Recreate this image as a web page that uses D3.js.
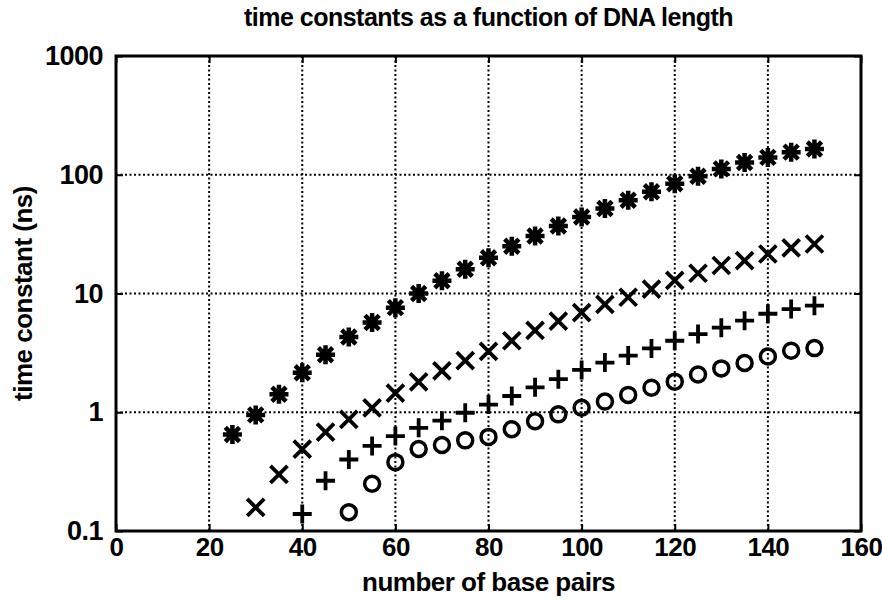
<!DOCTYPE html>
<html>
<head>
<meta charset="utf-8">
<script src="https://cdn.jsdelivr.net/npm/d3@7"></script>
<style>
  body { margin: 0; background: #fff; }
  text { font-family: 'Liberation Sans', Arial, sans-serif; font-weight: bold; fill: #000; }
</style>
</head>
<body>
<svg id="chart" width="882" height="602"></svg>
<script>
'use strict';

// base pairs for each series
var starX = d3.range(25, 151, 5);
var crossX = d3.range(30, 151, 5);
var plusX = d3.range(40, 151, 5);
var circleX = d3.range(50, 151, 5);

// time constants (ns)
var starY = [0.65, 0.95, 1.42, 2.15, 3.05, 4.3, 5.7, 7.6, 10, 12.8, 16, 20, 25,
    30.5, 37, 44, 52, 61, 72, 84, 97, 112, 127, 140, 155, 165];
var crossY = [0.158, 0.30, 0.49, 0.68, 0.87, 1.09, 1.45, 1.8, 2.23, 2.72, 3.25,
    4.0, 4.9, 5.85, 6.9, 8.1, 9.3, 10.9, 12.9, 14.8, 17.2, 18.9, 21.5, 24.2, 26.1];
var plusY = [0.139, 0.265, 0.40, 0.52, 0.63, 0.74, 0.85, 0.99, 1.16, 1.37, 1.62,
    1.9, 2.27, 2.62, 3.0, 3.45, 4.0, 4.55, 5.15, 5.9, 6.75, 7.4, 7.9];
var circleY = [0.144, 0.25, 0.38, 0.49, 0.53, 0.58, 0.62, 0.72, 0.84, 0.96, 1.09,
    1.23, 1.4, 1.61, 1.81, 2.08, 2.34, 2.6, 2.95, 3.3, 3.47];

var xTicks = [0, 20, 40, 60, 80, 100, 120, 140, 160];
var yTicks = [0.1, 1, 10, 100, 1000];

var svg = d3.select('#chart');
var plotLeft = 116, plotRight = 861, plotTop = 56, plotBottom = 531;

var x = d3.scaleLinear().domain([0, 160]).range([plotLeft, plotRight]);
var y = d3.scaleLog().domain([0.1, 1000]).range([plotBottom, plotTop]);

// dotted grid
var grid = svg.append('g')
    .attr('stroke', '#000')
    .attr('stroke-width', 2)
    .attr('stroke-dasharray', '2,2.5');
grid.selectAll('.gx')
    .data(xTicks.slice(1, -1))
    .enter().append('line')
    .attr('x1', function(d) { return x(d); })
    .attr('x2', function(d) { return x(d); })
    .attr('y1', plotTop)
    .attr('y2', plotBottom);
grid.selectAll('.gy')
    .data(yTicks.slice(1, -1))
    .enter().append('line')
    .attr('x1', plotLeft)
    .attr('x2', plotRight)
    .attr('y1', function(d) { return y(d); })
    .attr('y2', function(d) { return y(d); });

// axes, ticks pointing in
var xAxis = svg.append('g')
    .attr('transform', 'translate(0,' + plotBottom + ')')
    .call(d3.axisBottom(x).tickValues(xTicks).tickSize(-7).tickPadding(7));
var xAxisTop = svg.append('g')
    .attr('transform', 'translate(0,' + plotTop + ')')
    .call(d3.axisTop(x).tickValues(xTicks).tickSize(-7).tickFormat(''));
var yAxis = svg.append('g')
    .attr('transform', 'translate(' + plotLeft + ',0)')
    .call(d3.axisLeft(y).tickValues(yTicks).tickSize(-7).tickPadding(13)
        .tickFormat(function(d) { return String(d); }));
var yAxisRight = svg.append('g')
    .attr('transform', 'translate(' + plotRight + ',0)')
    .call(d3.axisRight(y).tickValues(yTicks).tickSize(-7).tickFormat(''));

[xAxis, xAxisTop, yAxis, yAxisRight].forEach(function(a) {
    a.select('.domain').remove();
    a.selectAll('.tick line').attr('stroke', '#000').attr('stroke-width', 2);
});
xAxis.selectAll('.tick text').style('font-size', '26px').style('letter-spacing', '-0.5px');
yAxis.selectAll('.tick text').style('font-size', '27px').style('letter-spacing', '-0.5px');

// frame
svg.append('rect')
    .attr('x', plotLeft)
    .attr('y', plotTop)
    .attr('width', plotRight - plotLeft)
    .attr('height', plotBottom - plotTop)
    .attr('fill', 'none')
    .attr('stroke', '#000')
    .attr('stroke-width', 3);

function pairs(xs, ys) {
    return xs.map(function(v, i) { return { x: v, y: ys[i] }; });
}

var marks = svg.append('g')
    .attr('stroke', '#000')
    .attr('fill', 'none')
    .attr('stroke-linecap', 'butt');

// asterisks
var s = 9.5;
marks.selectAll('.star')
    .data(pairs(starX, starY))
    .enter().append('path')
    .attr('stroke-width', 4.5)
    .attr('d', function(d) {
        var cx = x(d.x), cy = y(d.y), k = s * 0.75;
        return 'M' + (cx - s) + ',' + cy + 'H' + (cx + s) +
            'M' + cx + ',' + (cy - s) + 'V' + (cy + s) +
            'M' + (cx - k) + ',' + (cy - k) + 'L' + (cx + k) + ',' + (cy + k) +
            'M' + (cx - k) + ',' + (cy + k) + 'L' + (cx + k) + ',' + (cy - k);
    });

// crosses
var c = 8.5;
marks.selectAll('.cross')
    .data(pairs(crossX, crossY))
    .enter().append('path')
    .attr('stroke-width', 3.8)
    .attr('d', function(d) {
        var cx = x(d.x), cy = y(d.y);
        return 'M' + (cx - c) + ',' + (cy - c) + 'L' + (cx + c) + ',' + (cy + c) +
            'M' + (cx - c) + ',' + (cy + c) + 'L' + (cx + c) + ',' + (cy - c);
    });

// plus signs
var p = 9.5;
marks.selectAll('.plus')
    .data(pairs(plusX, plusY))
    .enter().append('path')
    .attr('stroke-width', 3.8)
    .attr('d', function(d) {
        var cx = x(d.x), cy = y(d.y);
        return 'M' + (cx - p) + ',' + cy + 'H' + (cx + p) +
            'M' + cx + ',' + (cy - p) + 'V' + (cy + p);
    });

// circles
marks.selectAll('.circ')
    .data(pairs(circleX, circleY))
    .enter().append('circle')
    .attr('stroke-width', 3.5)
    .attr('cx', function(d) { return x(d.x); })
    .attr('cy', function(d) { return y(d.y); })
    .attr('r', 7.5);

// labels
svg.append('text')
    .attr('x', (plotLeft + plotRight) / 2)
    .attr('y', 26)
    .attr('text-anchor', 'middle')
    .style('font-size', '25px')
    .style('letter-spacing', '-0.5px')
    .text('time constants as a function of DNA length');

svg.append('text')
    .attr('x', (plotLeft + plotRight) / 2)
    .attr('y', 591)
    .attr('text-anchor', 'middle')
    .style('font-size', '26px')
    .style('letter-spacing', '-0.5px')
    .text('number of base pairs');

svg.append('text')
    .attr('transform', 'translate(32,' + ((plotTop + plotBottom) / 2) + ') rotate(-90)')
    .attr('text-anchor', 'middle')
    .style('font-size', '26px')
    .style('letter-spacing', '-0.5px')
    .text('time constant (ns)');
</script>
</body>
</html>
